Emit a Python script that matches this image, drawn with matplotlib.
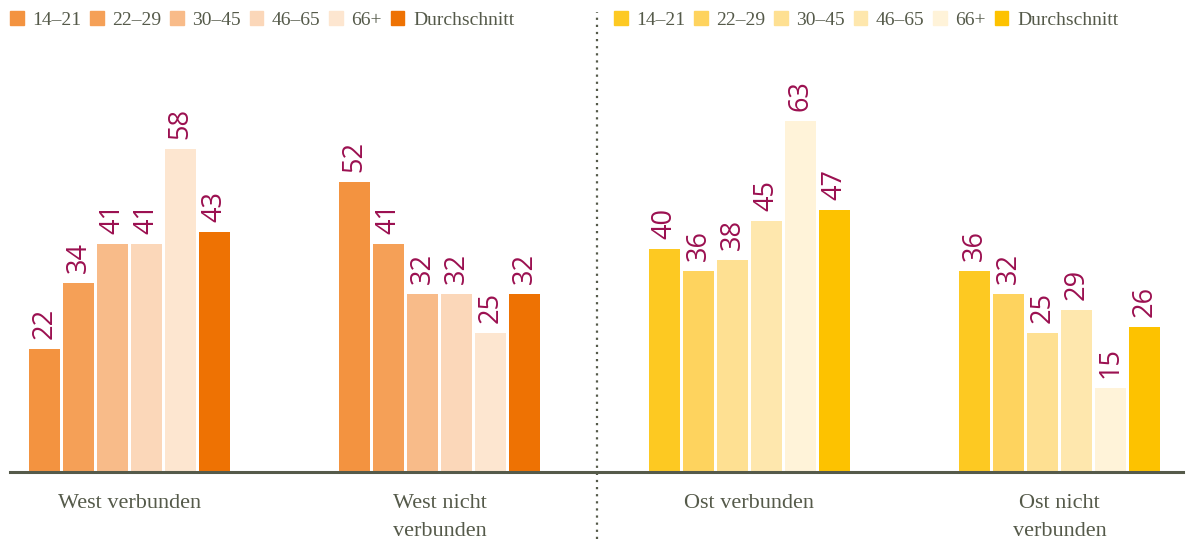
import numpy as np
import matplotlib.pyplot as plt
from matplotlib.patches import Patch

# Daten
gruppen = ["West verbunden", "West nicht\nverbunden", "Ost verbunden", "Ost nicht\nverbunden"]
alter = ["14–21", "22–29", "30–45", "46–65", "66+", "Durchschnitt"]
west_verbunden = [22, 34, 41, 41, 58, 43]
west_nicht = [52, 41, 32, 32, 25, 32]
ost_verbunden = [40, 36, 38, 45, 63, 47]
ost_nicht = [36, 32, 25, 29, 15, 26]

farben_west = ["#f39340", "#f5a057", "#f8bb89", "#fbd7b9", "#fde6d0", "#ee7203"]
farben_ost = ["#fdc922", "#fed35e", "#fee092", "#fee7ad", "#fff3d9", "#fdc200"]

werte = [west_verbunden, west_nicht, ost_verbunden, ost_nicht]
farben = [farben_west, farben_west, farben_ost, farben_ost]

plt.rcParams['font.family'] = ['Liberation Serif', 'DejaVu Serif']

fig = plt.figure(figsize=(11.91, 5.39), dpi=100)
# Achse: Grundlinie bei y=472px, links 10px
ax = fig.add_axes([10 / 1191, (539 - 472) / 539, 1173 / 1191, 472 / 539])

px_pro_einheit = 5.57
ax.set_ylim(0, 472 / px_pro_einheit)
ax.set_xlim(-119.5 / 310, (1183 - 129.5) / 310)

breite = 31 / 310
abstand = 34 / 310
for g, (vals, cols) in enumerate(zip(werte, farben)):
    for i, (v, c) in enumerate(zip(vals, cols)):
        x = g + (i - 2.5) * abstand
        ax.bar(x, v, width=breite, color=c, zorder=2)
        ax.text(x, v + 1.8, str(v), rotation=90, ha='center', va='bottom',
                color='#9b1050', fontsize=19.5, family=['Open Sans', 'DejaVu Sans'])

for s in ['top', 'right', 'left']:
    ax.spines[s].set_visible(False)
ax.spines['bottom'].set_color('#555a4a')
ax.spines['bottom'].set_linewidth(2.2)
ax.set_yticks([])
ax.set_xticks(range(4))
ax.set_xticklabels(gruppen, fontsize=16, color='#555a4a', linespacing=1.6, va='top')
ax.tick_params(axis='x', length=0, pad=16)

# gepunktete Trennlinie
fig.add_artist(plt.Line2D([597 / 1191, 597 / 1191], [0, 1 - 12 / 539], color='#555a4a',
                          linestyle=(0, (1, 2.2)), linewidth=1.6))

# Legenden
def legende(cols, x0):
    handles = [Patch(color=c) for c in cols]
    leg = fig.legend(handles, alter, loc='upper left', bbox_to_anchor=(x0, 1 - 11 / 539),
                     ncol=6, frameon=False, fontsize=14, handlelength=0.7,
                     handleheight=0.7, handletextpad=0.45, columnspacing=0.44,
                     borderaxespad=0, borderpad=0)
    for t in leg.get_texts():
        t.set_color('#555a4a')
    return leg

legende(farben_west, 10 / 1191)
legende(farben_ost, 614 / 1191)

fig.savefig('out.png', dpi=100)
